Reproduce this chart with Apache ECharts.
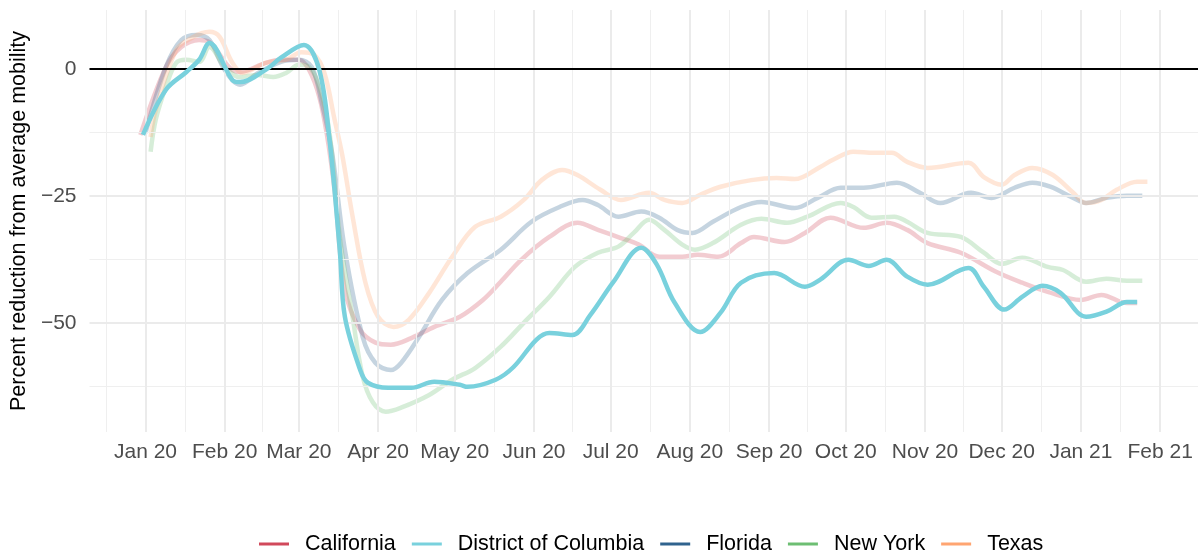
<!DOCTYPE html>
<html>
<head>
<meta charset="utf-8">
<script src="https://cdn.jsdelivr.net/npm/echarts@6/dist/echarts.min.js"></script>
<style>
  html, body { margin: 0; padding: 0; background: #fff; }
  #chart { width: 1198px; height: 556px; }
</style>
</head>
<body>
<div id="chart"></div>
<script>
// x values are days counted from 2020-01-01, y values are percent change
const stateNames = ['California', 'District of Columbia', 'Florida', 'New York', 'Texas'];
const tickMonths = ['2020-01-01', '2020-02-01', '2020-03-01', '2020-04-01', '2020-05-01', '2020-06-01', '2020-07-01',
  '2020-08-01', '2020-09-01', '2020-10-01', '2020-11-01', '2020-12-01', '2021-01-01', '2021-02-01'];
const tickLabels = ['Jan 20', 'Feb 20', 'Mar 20', 'Apr 20', 'May 20', 'Jun 20', 'Jul 20',
  'Aug 20', 'Sep 20', 'Oct 20', 'Nov 20', 'Dec 20', 'Jan 21', 'Feb 21'];
const yTicks = [-50, -25, 0];
const yMinorTicks = [-62.5, -37.5, -12.5];

const california = [[-2, -13.0], [8, 0.4], [14, 4.3], [21, 5.7], [25, 5.3], [33, 0.2], [37, -0.6], [47, 1.2], [53, 1.8],
  [60, 1.8], [64, -0.2], [68, -5.5], [71, -13], [74, -24], [78, -43.5], [84, -51.4], [90, -53.9], [96, -54.3], [104, -53.0],
  [113, -50.8], [123, -48.8], [132, -45.5], [139, -41.9], [147, -37.6], [158, -33.1], [169, -30.3], [177, -31.7], [186, -33.3],
  [193, -34.6], [201, -37.0], [210, -37.0], [216, -36.6], [224, -37.0], [233, -34.3], [238, -33.1], [250, -34.1], [258, -32.3],
  [268, -29.3], [281, -31.3], [290, -30.3], [298, -31.7], [306, -34.3], [319, -36.2], [333, -40.0], [343, -42.1], [353, -43.9],
  [366, -45.5], [374, -44.5], [384, -46.1], [388, -46.1]];

const dc = [[-1, -13.0], [8, -4.1], [16, -0.6], [21, 1.8], [25, 5.1], [34, -2.2], [37, -2.6], [47, -0.2], [53, 2.2], [62, 4.7],
  [68, -0.2], [72, -14], [76, -35.6], [78, -48.8], [84, -59.3], [87, -61.8], [95, -62.8], [104, -62.8], [113, -61.6], [123, -62.2],
  [126, -62.6], [137, -61.2], [144, -58.7], [153, -53.3], [158, -52.0], [167, -52.4], [174, -48.5], [183, -42.0], [194, -35.2],
  [200, -38.5], [207, -46.0], [217, -51.8], [225, -48.0], [233, -42.1], [246, -40.2], [258, -42.9], [264, -41.5], [275, -37.6],
  [283, -38.8], [290, -37.6], [298, -40.9], [306, -42.5], [322, -39.2], [328, -42.9], [336, -47.4], [343, -44.9], [351, -42.7],
  [358, -44.1], [368, -48.8], [376, -47.8], [384, -45.9], [388, -45.9]];

const florida = [[0, -12.6], [8, 0.4], [14, 5.7], [20, 6.7], [25, 5.7], [31, -0.2], [37, -3.1], [44, -0.8], [53, 1.4], [60, 1.8],
  [65, 0.4], [69, -6.7], [73, -16.5], [78, -35.6], [85, -52.8], [90, -57.9], [96, -59.3], [100, -57.9], [107, -52.8], [116, -45.5],
  [126, -40.2], [139, -35.6], [151, -30.1], [162, -27.2], [171, -25.8], [177, -26.8], [185, -29.1], [194, -28.1], [201, -29.3],
  [208, -31.7], [214, -32.3], [222, -30.1], [233, -27.2], [241, -26.2], [254, -27.4], [263, -25.4], [272, -23.4], [281, -23.4],
  [294, -22.4], [303, -24.4], [311, -26.4], [323, -24.4], [331, -25.4], [340, -23.4], [347, -22.4], [354, -23.2], [363, -25.4],
  [368, -26.4], [376, -25.4], [384, -25.0], [390, -25.0]];

const newYork = [[2, -16.3], [4, -10], [8, -3.5], [12, 1.2], [16, 1.8], [21, 1.4], [25, 4.3], [31, 0.4], [37, -1.6], [44, -1.2],
  [50, -1.6], [55, -0.8], [60, 0.8], [64, 0.4], [68, -3.5], [72, -12.6], [76, -33], [81, -48.8], [85, -60.6], [89, -65.7],
  [94, -67.5], [100, -66.7], [111, -64.2], [120, -61.2], [129, -58.9], [139, -54.7], [148, -50.0], [158, -44.9], [168, -39.0],
  [177, -36.2], [185, -35.0], [191, -32.3], [197, -29.7], [203, -31.7], [210, -34.6], [215, -35.6], [222, -34.3], [233, -30.7],
  [241, -29.5], [251, -30.3], [259, -29.1], [272, -26.4], [277, -27.2], [284, -29.3], [293, -29.1], [298, -30.1], [306, -32.3],
  [319, -33.1], [328, -36.2], [335, -38.4], [343, -37.2], [353, -39.0], [359, -39.6], [368, -41.9], [376, -41.3], [384, -41.7],
  [390, -41.7]];

const texas = [[2, -13.4], [4, -8.1], [12, 3.7], [18, 6.1], [25, 7.3], [29, 6.3], [34, 1.2], [38, -0.8], [47, 1.2], [55, 1.8],
  [61, 3.3], [66, 2.8], [70, -0.8], [74, -10], [77, -17], [81, -29], [86, -42], [91, -48.8], [97, -50.8], [103, -49.4],
  [111, -44.1], [120, -37.0], [129, -31.1], [139, -29.1], [148, -25.8], [155, -21.9], [163, -19.9], [169, -20.9], [178, -23.8],
  [186, -25.8], [197, -24.4], [203, -25.8], [210, -26.4], [217, -24.8], [225, -23.2], [237, -21.9], [247, -21.5], [254, -21.7],
  [264, -19.3], [269, -17.9], [277, -16.3], [285, -16.5], [292, -16.5], [298, -18.3], [306, -19.5], [322, -18.5], [328, -21.3],
  [335, -22.8], [340, -20.9], [347, -19.5], [355, -20.9], [363, -24.4], [368, -26.4], [374, -25.8], [380, -23.8], [388, -22.2],
  [392, -22.2]];

const stateColors = ['#D1495B', '#79D1DD', '#30638E', '#6DBE73', '#FFA571'];
const stateOpacity = [0.28, 1, 0.28, 0.28, 0.28];
const FONT = '"Liberation Sans", Arial, sans-serif';

const DAY = 86400000;
const ORIGIN = Date.UTC(2020, 0, 1);
const toDay = s => {
  const p = s.split('-').map(Number);
  return (Date.UTC(p[0], p[1] - 1, p[2]) - ORIGIN) / DAY;
};

const xMin = -21.9;
const xMax = 411.8;
const tickDays = tickMonths.map(toDay);

// minor breaks sit half way between month starts (ggplot style)
const allMonths = [toDay('2019-12-01')].concat(tickDays, [toDay('2021-03-01')]);
const minorDays = [];
for (let i = 0; i < allMonths.length - 1; i++) {
  const mid = (allMonths[i] + allMonths[i + 1]) / 2;
  if (mid > xMin && mid < xMax - 2) minorDays.push(mid);
}

const chart = echarts.init(document.getElementById('chart'));

const minorStyle = { color: '#EFEFEF', width: 1.1, type: 'solid' };
const majorStyle = { color: '#EBEBEB', width: 2, type: 'solid' };
const gridLines = [].concat(
  minorDays.map(d => ({ xAxis: d, lineStyle: minorStyle })),
  yMinorTicks.map(v => ({ yAxis: v, lineStyle: minorStyle })),
  tickDays.map(d => ({ xAxis: d, lineStyle: majorStyle })),
  yTicks.map(v => ({ yAxis: v, lineStyle: majorStyle }))
);

const stateSeries = [california, dc, florida, newYork, texas].map((rows, i) => ({
  name: stateNames[i],
  type: 'line',
  data: rows,
  smooth: 0.35,
  showSymbol: false,
  symbol: 'none',
  z: i === 1 ? 5 : 2,
  color: stateColors[i],
  lineStyle: { color: stateColors[i], width: 4.5, opacity: stateOpacity[i] },
  emphasis: { disabled: true }
}));

chart.setOption({
  animation: false,
  backgroundColor: '#fff',
  grid: { left: 87, right: 0, top: 10, bottom: 124 },
  textStyle: { fontFamily: FONT },
  legend: {
    left: 259,
    top: 533,
    padding: 0,
    itemWidth: 30,
    itemHeight: 3,
    itemGap: 16,
    icon: 'rect',
    selectedMode: false,
    data: stateNames.map((n, i) => ({ name: n, itemStyle: { color: stateColors[i], opacity: 1 } })),
    textStyle: { fontFamily: FONT, fontSize: 21.5, color: '#000', padding: [0, 0, 0, 11] }
  },
  xAxis: {
    type: 'value',
    min: xMin,
    max: xMax,
    axisLine: { show: false },
    axisTick: { show: false },
    splitLine: { show: false },
    axisLabel: {
      customValues: tickDays,
      fontFamily: FONT,
      fontSize: 21,
      color: '#4D4D4D',
      margin: 10,
      formatter: v => {
        const k = tickDays.indexOf(v);
        return k >= 0 ? tickLabels[k] : '';
      }
    }
  },
  yAxis: {
    type: 'value',
    min: -71.5,
    max: 11.6,
    name: 'Percent reduction from average mobility',
    nameLocation: 'middle',
    nameGap: 51,
    nameTextStyle: { fontFamily: FONT, fontSize: 21.5, color: '#000' },
    axisLine: { show: false },
    axisTick: { show: false },
    splitLine: { show: false },
    axisLabel: {
      customValues: yTicks,
      fontFamily: FONT,
      fontSize: 21,
      color: '#4D4D4D',
      margin: 13,
      formatter: v => String(v).replace('-', '\u2212')
    }
  },
  series: [
    {
      name: 'grid',
      type: 'line',
      data: [],
      z: 0,
      silent: true,
      markLine: { silent: true, symbol: ['none', 'none'], label: { show: false }, animation: false, data: gridLines }
    },
    {
      name: 'zero',
      type: 'line',
      data: [],
      z: 3,
      silent: true,
      markLine: {
        silent: true, symbol: ['none', 'none'], label: { show: false }, animation: false,
        data: [{ yAxis: 0, lineStyle: { color: '#000', width: 2, type: 'solid' } }]
      }
    }
  ].concat(stateSeries)
});
</script>
</body>
</html>
